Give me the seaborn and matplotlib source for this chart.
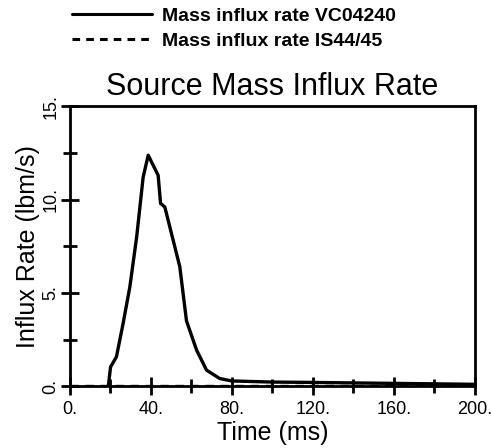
import matplotlib
matplotlib.use("Agg")
import matplotlib.pyplot as plt
import seaborn as sns
import pandas as pd
from matplotlib.ticker import MultipleLocator, FuncFormatter

time_vc = [19, 20.1, 23, 26.3, 29.6, 33, 36.2, 38.7, 43.6, 44.8, 46.9, 54.3, 57.6, 62.6, 67.5, 74, 80, 100, 120, 160, 200]
rate_vc = [0, 1.03, 1.57, 3.36, 5.3, 8.0, 11.2, 12.37, 11.3, 9.79, 9.6, 6.4, 3.5, 1.93, 0.86, 0.41, 0.28, 0.22, 0.2, 0.15, 0.1]
time_is = [0, 200]
rate_is = [0, 0]
series_labels = ["Mass influx rate VC04240", "Mass influx rate IS44/45"]

sns.set_theme(style="white")
plt.rcParams['font.family'] = ['Liberation Sans', 'DejaVu Sans']
plt.rcParams['text.color'] = 'black'
plt.rcParams['axes.labelcolor'] = 'black'
plt.rcParams['xtick.color'] = 'black'
plt.rcParams['ytick.color'] = 'black'

df = pd.concat([
    pd.DataFrame({"t": time_vc, "r": rate_vc, "s": series_labels[0]}),
    pd.DataFrame({"t": time_is, "r": rate_is, "s": series_labels[1]}),
])

fig = plt.figure(figsize=(4.92, 4.48), dpi=100)
ax = fig.add_axes([0.142, 0.138, 0.823, 0.625])
sns.lineplot(data=df, x="t", y="r", style="s", style_order=series_labels,
             dashes={series_labels[0]: "", series_labels[1]: (2.5, 2)},
             color="black", linewidth=2.4, ax=ax, sort=False, legend=True)

ax.set_xlim(0, 200)
ax.set_ylim(0, 15)
for sp in ax.spines.values():
    sp.set_linewidth(2)
    sp.set_color("black")
ax.xaxis.set_major_locator(MultipleLocator(40))
ax.xaxis.set_minor_locator(MultipleLocator(20))
ax.yaxis.set_major_locator(MultipleLocator(5))
ax.yaxis.set_minor_locator(MultipleLocator(2.5))
fmt = FuncFormatter(lambda v, p: f"{v:.0f}.")
ax.xaxis.set_major_formatter(fmt)
ax.yaxis.set_major_formatter(fmt)
ax.tick_params(which="major", direction="inout", length=13, width=2, color="black",
               labelsize=13, bottom=True, left=True, pad=1)
ax.tick_params(axis="x", which="major", pad=4)
ax.tick_params(which="minor", direction="inout", length=10, width=2, color="black",
               bottom=True, left=True)
for lab in ax.get_yticklabels():
    lab.set_rotation(90)
    lab.set_va("center")
ax.set_xlabel("Time (ms)", fontsize=18, labelpad=2)
ax.set_ylabel("Influx Rate (lbm/s)", fontsize=18, labelpad=2)
ax.set_title("Source Mass Influx Rate", fontsize=22, pad=8)

h, l = ax.get_legend_handles_labels()
for hh in h:
    hh.set_linewidth(2.2)
leg = ax.legend(h, l, loc="upper left", bbox_to_anchor=(0.146, 0.984), bbox_transform=fig.transFigure,
                frameon=False, handlelength=4.1, handletextpad=0.55, labelspacing=0.4,
                borderpad=0, borderaxespad=0,
                prop={"weight": "bold", "size": 14})

fig.savefig("out.png", dpi=100)
